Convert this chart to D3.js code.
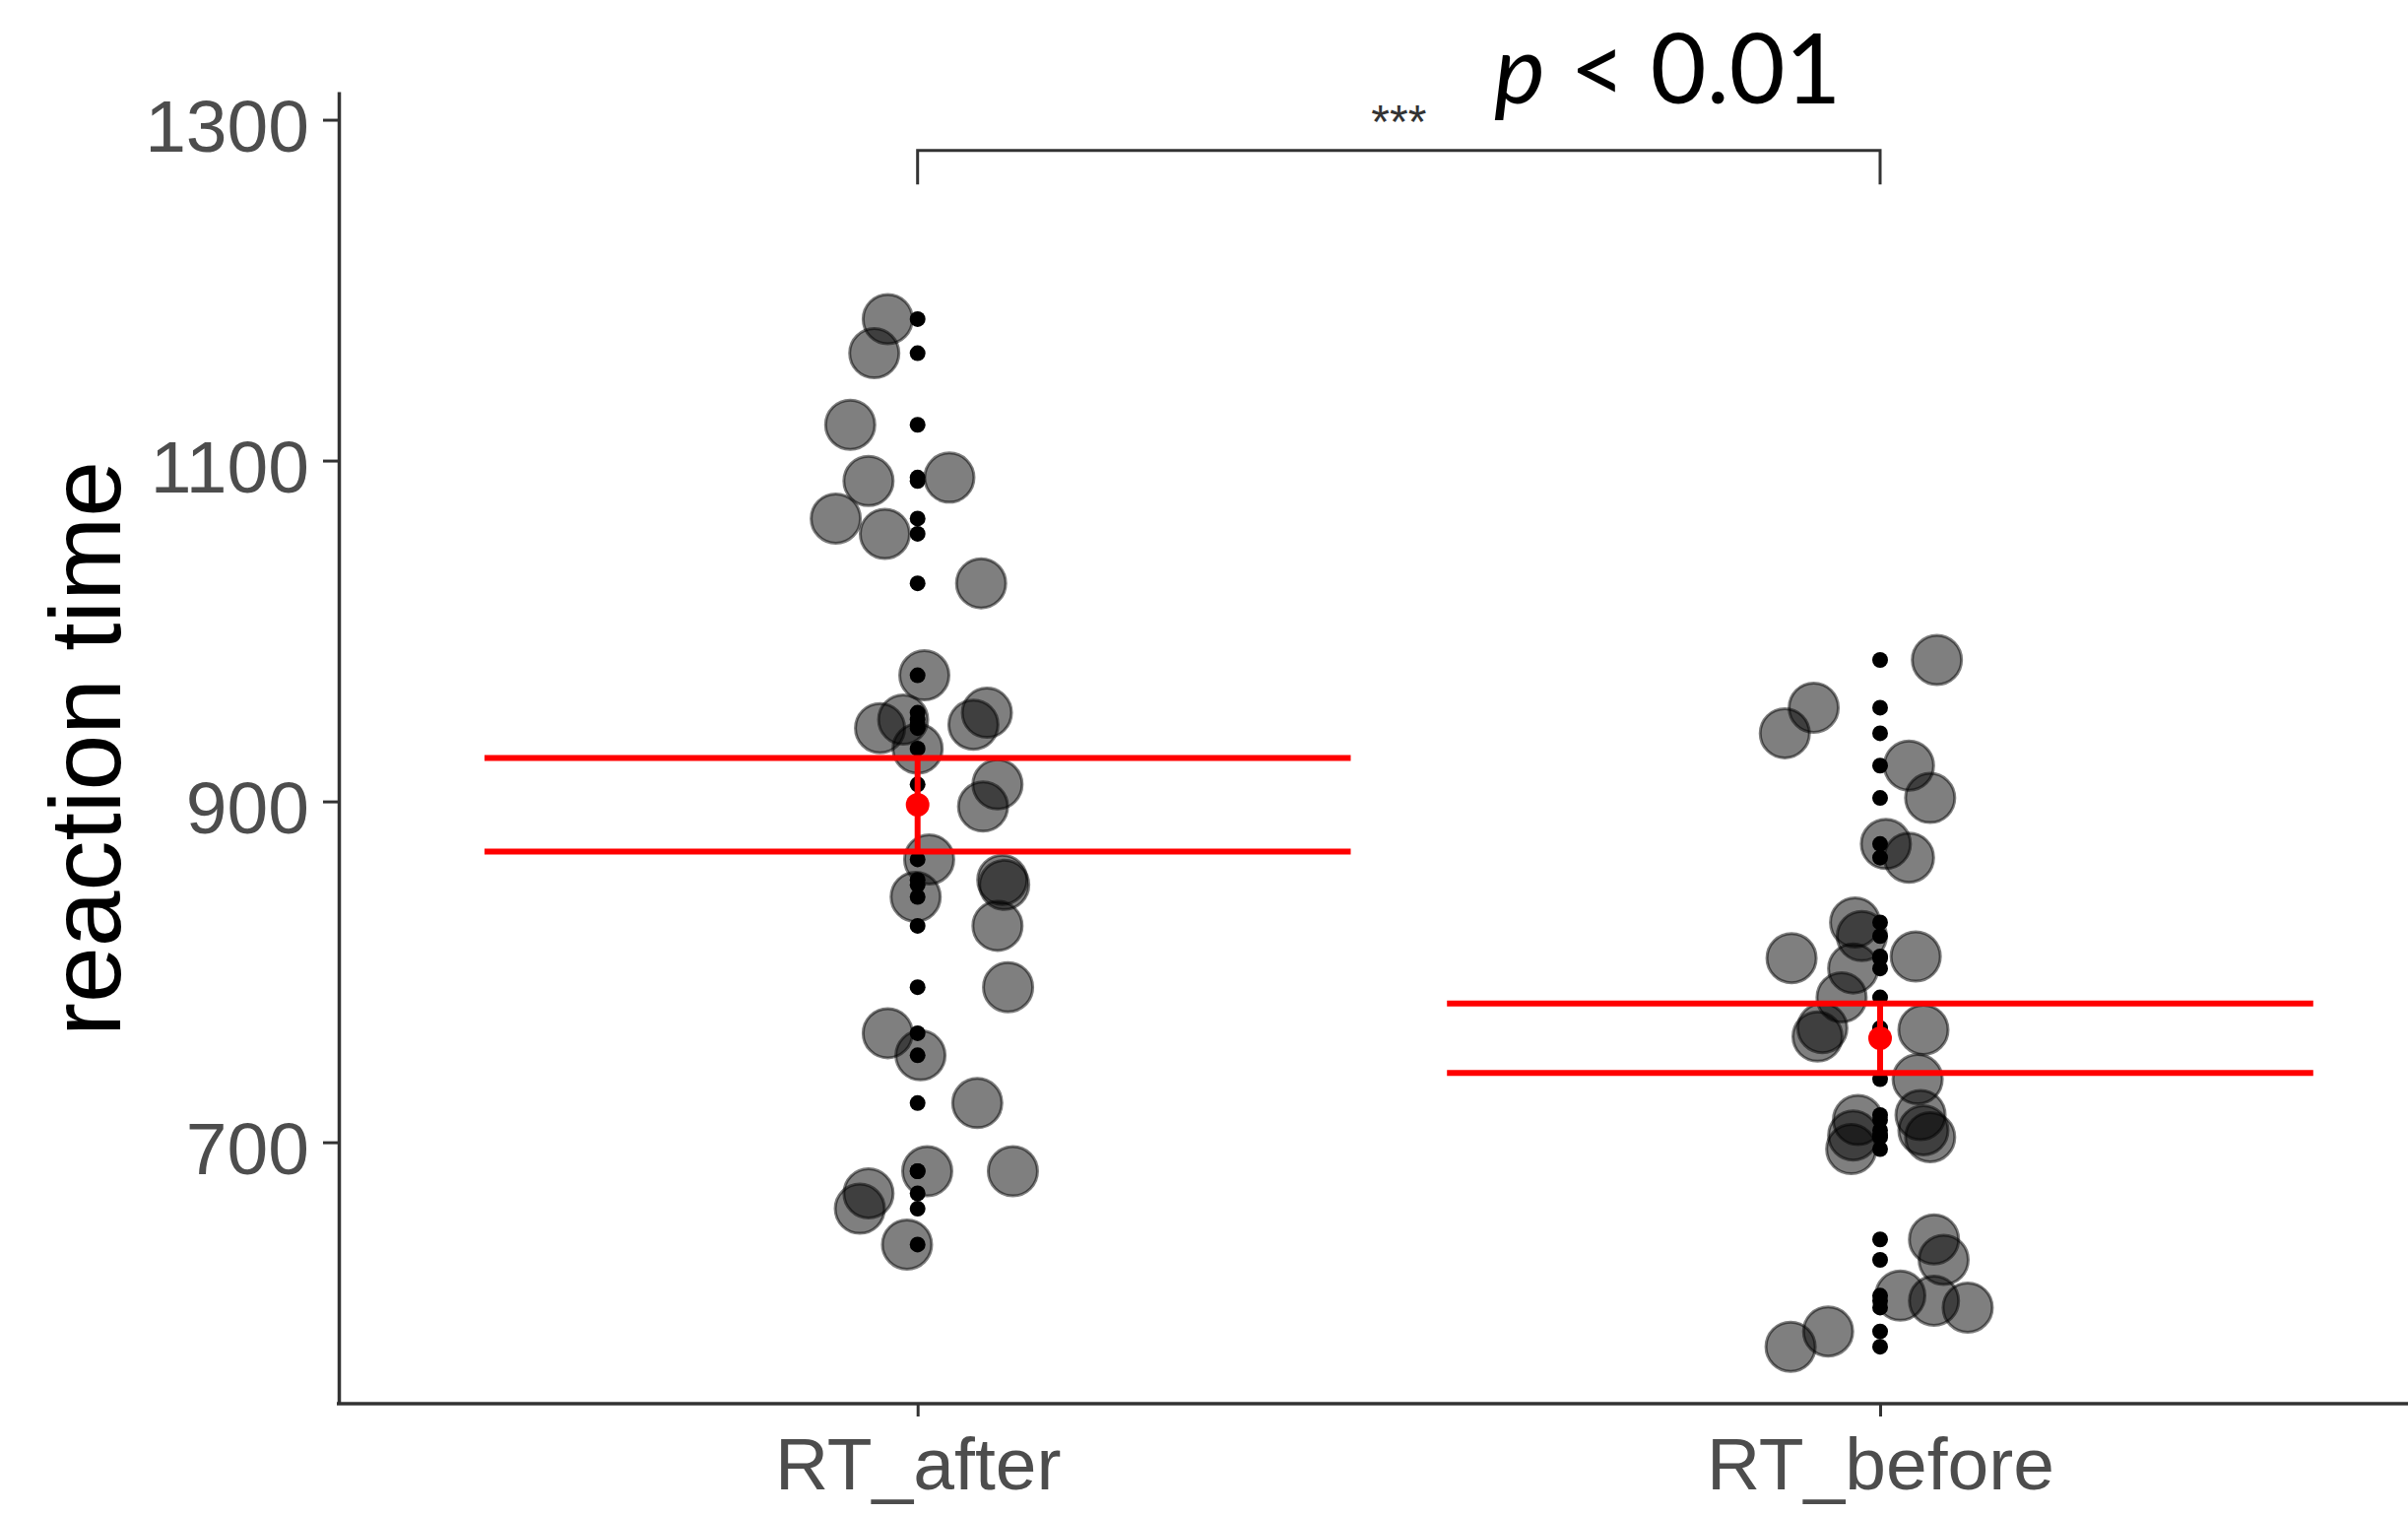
<!DOCTYPE html>
<html>
<head>
<meta charset="utf-8">
<script src="https://cdnjs.cloudflare.com/ajax/libs/d3/7.8.5/d3.min.js"></script>
<style>
  body { margin: 0; background: #fff; }
  svg { display: block; }
</style>
</head>
<body>
<div id="dataviz"></div>
<script>
var categories = ['RT_after', 'RT_before'];

// reaction times, with the sideways jitter (in category widths)
var rtAfter = [1183, 1163, 1121, 1088, 1090, 1066, 1057, 1028, 974, 952, 948, 945, 943, 931, 910,
               897, 866, 854, 851, 844, 827, 791, 764, 751, 723, 683, 683, 670, 661, 640];
var jitterAfter = [-0.031, -0.045, -0.070, -0.051, 0.033, -0.085, -0.034, 0.066, 0.007, 0.072, -0.015, 0.058, -0.039, 0.000, 0.083,
                   0.068, 0.012, 0.088, 0.090, -0.002, 0.083, 0.094, -0.031, 0.003, 0.062, 0.010, 0.099, -0.051, -0.060, -0.011];
var rtBefore = [983, 955, 940, 921, 902, 875, 867, 829, 821, 808, 809, 802, 785, 767, 762,
                766, 737, 713, 704, 696, 716, 707, 703, 643, 631, 610, 607, 603, 589, 580];
var jitterBefore = [0.059, -0.069, -0.099, 0.030, 0.052, 0.006, 0.030, -0.026, -0.019, -0.092, 0.037, -0.028, -0.040, -0.060, -0.065,
                    0.045, 0.039, -0.023, -0.028, -0.030, 0.042, 0.045, 0.052, 0.056, 0.066, 0.021, 0.056, 0.091, -0.054, -0.093];

var meanRT = [898, 761];
var seRT = [27.5, 20.4];
var yTicks = [700, 900, 1100, 1300];
var bracketY = [1262, 1282];
var sigLabel = '***';

var W = 2445, H = 1537;
var font = '"Liberation Sans", Arial, sans-serif';

var svg = d3.select('#dataviz').append('svg')
            .attr('width', W)
            .attr('height', H);
svg.append('rect').attr('width', W).attr('height', H).attr('fill', '#fff');

var y = d3.scaleLinear().domain([546.6, 1316.5]).range([1425, 93]);
var x = d3.scalePoint().domain(categories).range([931.7, 1909]);
var step = x.step();

var points = [];
rtAfter.forEach(function(v, i){ points.push({cat: 'RT_after', v: v, j: jitterAfter[i]}); });
rtBefore.forEach(function(v, i){ points.push({cat: 'RT_before', v: v, j: jitterBefore[i]}); });

// jittered big points
svg.append('g').selectAll('circle')
   .data(points)
   .enter().append('circle')
   .attr('cx', function(d){ return x(d.cat) + d.j * step; })
   .attr('cy', function(d){ return y(d.v); })
   .attr('r', 25)
   .attr('fill', 'rgba(0,0,0,0.5)')
   .attr('stroke', 'rgba(0,0,0,0.5)')
   .attr('stroke-width', 3);

// raw points on the category line
svg.append('g').selectAll('circle')
   .data(points)
   .enter().append('circle')
   .attr('cx', function(d){ return x(d.cat); })
   .attr('cy', function(d){ return y(d.v); })
   .attr('r', 8)
   .attr('fill', '#000');

// mean +- se in red
var summary = categories.map(function(c, i){ return {cat: c, m: meanRT[i], se: seRT[i]}; });
var red = svg.append('g');
summary.forEach(function(d){
  [d.m - d.se, d.m + d.se].forEach(function(v){
    red.append('line')
       .attr('x1', x(d.cat) - 0.45 * step)
       .attr('x2', x(d.cat) + 0.45 * step)
       .attr('y1', y(v)).attr('y2', y(v))
       .attr('stroke', '#ff0000')
       .attr('stroke-width', 6);
  });
  red.append('line')
     .attr('x1', x(d.cat)).attr('x2', x(d.cat))
     .attr('y1', y(d.m - d.se)).attr('y2', y(d.m + d.se))
     .attr('stroke', '#ff0000')
     .attr('stroke-width', 6);
  red.append('circle')
     .attr('cx', x(d.cat))
     .attr('cy', y(d.m))
     .attr('r', 12)
     .attr('fill', '#ff0000');
});

// axes
var yAxis = svg.append('g')
               .attr('transform', 'translate(344,0)')
               .call(d3.axisLeft(y).tickValues(yTicks).tickFormat(d3.format('d'))
                       .tickSize(16).tickSizeOuter(0).tickPadding(14));
yAxis.select('.domain').attr('stroke', '#333').attr('stroke-width', 3.5);
yAxis.selectAll('.tick line').attr('stroke', '#333').attr('stroke-width', 3);
yAxis.selectAll('.tick text')
     .attr('font-family', font)
     .attr('font-size', '75px')
     .attr('fill', '#4d4d4d')
     .attr('dy', '0.42em');

var xAxis = svg.append('g')
               .attr('transform', 'translate(0,1425)')
               .call(d3.axisBottom(x).tickSize(13).tickSizeOuter(0));
xAxis.select('.domain').remove();
xAxis.selectAll('.tick line').attr('stroke', '#333').attr('stroke-width', 3);
xAxis.selectAll('.tick text')
     .attr('font-family', font)
     .attr('font-size', '75px')
     .attr('fill', '#4d4d4d')
     .attr('y', 87)
     .attr('dy', 0);
svg.append('line')
   .attr('x1', 342).attr('x2', W)
   .attr('y1', 1425).attr('y2', 1425)
   .attr('stroke', '#333')
   .attr('stroke-width', 3.5);

svg.append('text')
   .attr('transform', 'translate(122,760) rotate(-90)')
   .attr('text-anchor', 'middle')
   .attr('font-family', font)
   .attr('font-size', '102px')
   .attr('fill', '#000')
   .text('reaction time');

// significance bracket
var x0 = x(categories[0]), x1 = x(categories[1]);
svg.append('path')
   .attr('d', 'M' + x0 + ',' + y(bracketY[0]) + 'V' + y(bracketY[1]) + 'H' + x1 + 'V' + y(bracketY[0]))
   .attr('fill', 'none')
   .attr('stroke', '#333')
   .attr('stroke-width', 3);
svg.append('text')
   .attr('x', (x0 + x1) / 2)
   .attr('y', 140)
   .attr('text-anchor', 'middle')
   .attr('font-family', font)
   .attr('font-size', '48px')
   .attr('fill', '#333')
   .text(sigLabel);

var pText = svg.append('text')
               .attr('x', 1517)
               .attr('y', 105)
               .attr('font-family', 'Lato, "Open Sans", sans-serif')
               .attr('font-size', '98px')
               .attr('fill', '#000');
pText.append('tspan').attr('font-style', 'italic').text('p');
pText.append('tspan').text(' < 0.01');
</script>
</body>
</html>
